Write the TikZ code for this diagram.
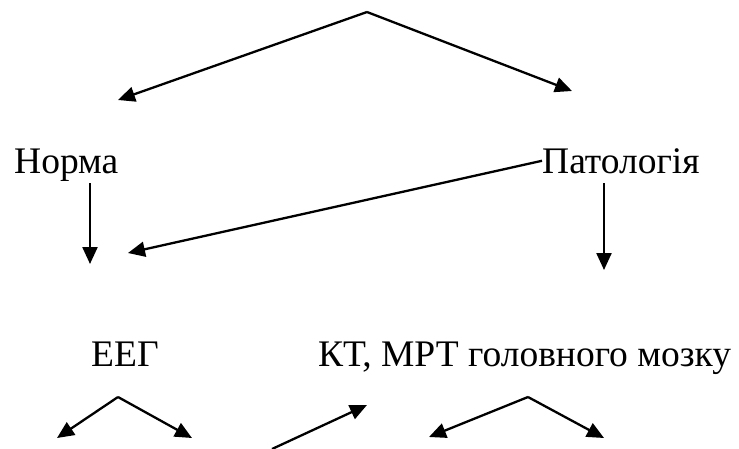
\documentclass[tikz,border=0pt]{standalone}
\usepackage{fontspec}
\setmainfont{Liberation Serif}
\usetikzlibrary{arrows.meta}
\begin{document}
\begin{tikzpicture}[x=1pt,y=-1pt,
  lbl/.style={inner sep=0pt,anchor=base west,font=\fontsize{37.5}{42}\selectfont},
  arr/.style={line width=2.3pt,-{Triangle[length=17pt,width=15pt]}}]
\useasboundingbox (0,0) rectangle (739,448);
% texts
\node[lbl] (norma) at (14,173) {Норма};
\node[lbl] (pat) at (542,173) {Патологія};
\node[lbl] (eeg) at (91,366) {ЕЕГ};
\node[lbl] (kt) at (318,366) {КТ, МРТ головного мозку};
% coordinates
\coordinate (top) at (367,12);
\coordinate (tl) at (118,100);
\coordinate (tr) at (572,91);
\coordinate (ns) at (90,183);
\coordinate (ne) at (90,264);
\coordinate (pe) at (128,253);
\coordinate (ps) at (604,183);
\coordinate (pd) at (604,270);
\coordinate (ea) at (118,397);
\coordinate (el) at (57,438);
\coordinate (er) at (192,438);
\coordinate (ds) at (272,449);
\coordinate (de) at (367,405);
\coordinate (ka) at (528,397);
\coordinate (kl) at (429,437);
\coordinate (kr) at (604,438);
% arrows
\draw[arr] (top) -- (tl);
\draw[arr] (top) -- (tr);
\draw[arr] (ns) -- (ne);
\draw[arr] (pat.west) -- (pe);
\draw[arr] (ps) -- (pd);
\draw[arr] (ea) -- (el);
\draw[arr] (ea) -- (er);
\draw[arr] (ds) -- (de);
\draw[arr] (ka) -- (kl);
\draw[arr] (ka) -- (kr);
\end{tikzpicture}
\end{document}
